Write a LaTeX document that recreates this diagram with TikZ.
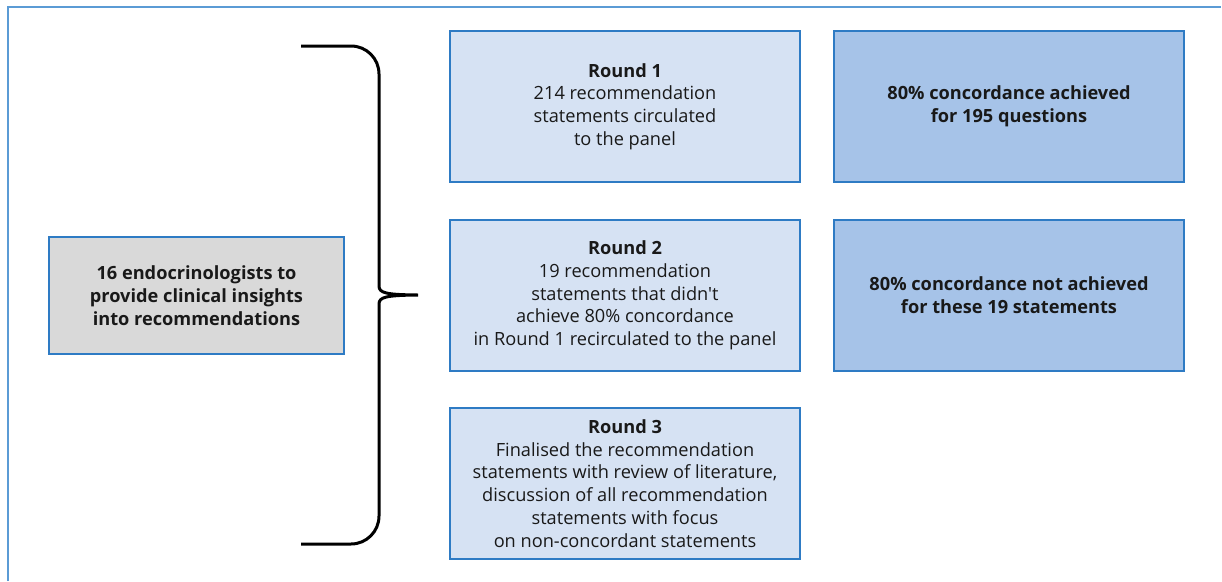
\documentclass[tikz,border=0pt]{standalone}
\usepackage{fontspec}
\setmainfont{Open Sans}[Ligatures=TeXOff]
\definecolor{frameblue}{HTML}{5B9BD5}
\definecolor{edgeblue}{HTML}{2E7BC4}
\definecolor{lightfill}{HTML}{D6E2F3}
\definecolor{darkfill}{HTML}{A6C3E8}
\definecolor{grayfill}{HTML}{D9D9D9}
\begin{document}
\begin{tikzpicture}[x=1pt,y=-1pt,
  box/.style={draw=edgeblue,line width=1.2pt,align=center,inner sep=0pt,
    font=\fontsize{18.2}{22.7}\selectfont,text=black!90},
  roundbox/.style={box,fill=lightfill,minimum width=350pt,minimum height=151pt},
  concbox/.style={box,fill=darkfill,minimum width=350pt,minimum height=151pt,font=\fontsize{18.2}{22.7}\selectfont\bfseries},
  panelbox/.style={box,fill=grayfill,minimum width=295pt,minimum height=117pt,font=\fontsize{18.2}{22.7}\selectfont\bfseries},
  brace/.style={line width=3pt,black}]
\useasboundingbox (0,0) rectangle (1222,581);
\draw[frameblue,line width=2pt] (8,581) -- (8,6.5) -- (1221,6.5);

\node[panelbox] (panel) at (196.5,295.5) {16 endocrinologists to\\provide clinical insights\\into recommendations};

\node[roundbox] (r1) at (625,106.5) {\textbf{Round 1}\\214 recommendation\\statements circulated\\to the panel};
\node[concbox] (c1) at (1009,106.5) {80\% concordance achieved\\for 195 questions};

\node[roundbox] (r2) at (625,295.5) {\textbf{Round 2}\\19 recommendation\\statements that didn't\\achieve 80\% concordance\\in Round 1 recirculated to the panel};
\node[concbox] (c2) at (1009,295.5) {80\% concordance not achieved\\for these 19 statements};

\node[roundbox] (r3) at (625,483.5) {\textbf{Round 3}\\Finalised the recommendation\\statements with review of literature,\\discussion of all recommendation\\statements with focus\\on non-concordant statements};

\coordinate (btop) at (301,46);
\coordinate (bbot) at (301,544);
\coordinate (btip) at (418,295);
\draw[brace] (btop) -- (351,46) .. controls (366.5,46) and (379,58.5) .. (379,74) -- (379,286)
  .. controls (379,293) and (386,294.7) .. (btip)
  .. controls (386,295.3) and (379,297) .. (379,304)
  -- (379,516) .. controls (379,531.5) and (366.5,544) .. (351,544) -- (bbot);
\end{tikzpicture}
\end{document}
